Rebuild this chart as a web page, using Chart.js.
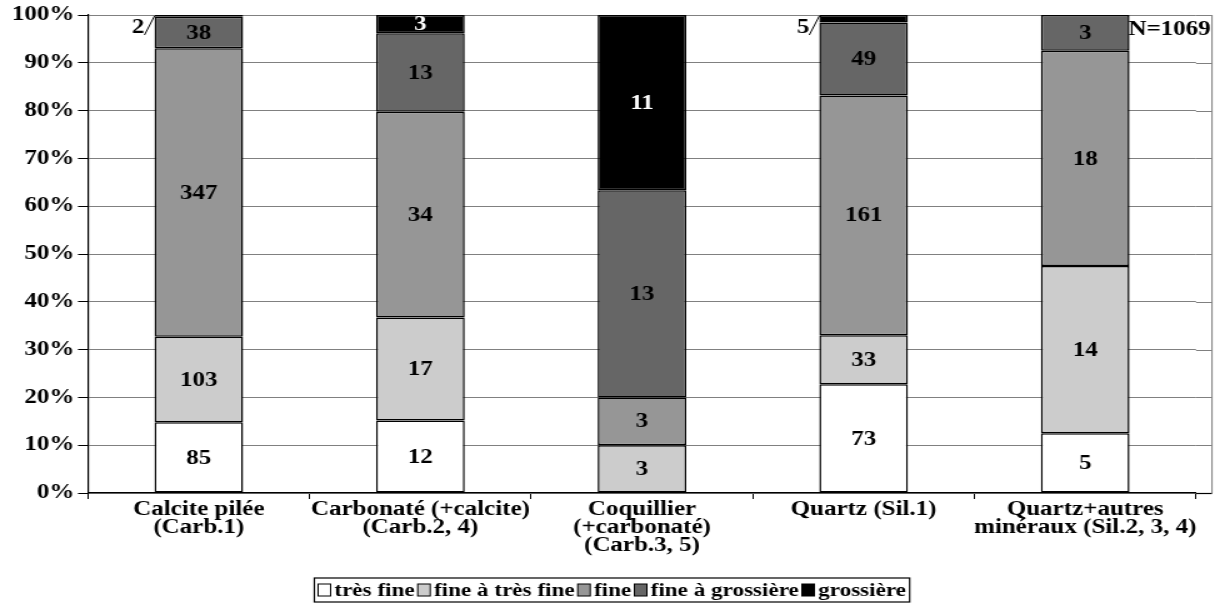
<!DOCTYPE html>
<html>
<head>
<meta charset="utf-8">
<script src="https://cdn.jsdelivr.net/npm/chart.js@4.4.0/dist/chart.umd.min.js"></script>
<style>
  html,body{margin:0;padding:0;background:#fff;overflow:hidden;}
  #c{transform:scaleX(1.25);transform-origin:0 0;display:block;}
</style>
</head>
<body>
<canvas id="c" width="976" height="603"></canvas>
<script>
const categories = [
  ["Calcite pilée","(Carb.1)"],
  ["Carbonaté (+calcite)","(Carb.2, 4)"],
  ["Coquillier","(+carbonaté)","(Carb.3, 5)"],
  ["Quartz (Sil.1)"],
  ["Quartz+autres","minéraux (Sil.2, 3, 4)"]
];
const seriesNames = ["très fine","fine à très fine","fine","fine à grossière","grossière"];
const tresFine       = [85, 12, 0, 73, 5];
const fineATresFine  = [103, 17, 3, 33, 14];
const fine           = [347, 34, 3, 161, 18];
const fineAGrossiere = [38, 13, 13, 49, 3];
const grossiere      = [2, 3, 11, 5, 0];
const yTicks = [0,10,20,30,40,50,60,70,80,90,100];
const totalLabel = "N=1069";

const counts = [tresFine, fineATresFine, fine, fineAGrossiere, grossiere];
const colors = ["#ffffff","#cccccc","#969696","#666666","#000000"];
const labelColors = ["#000","#000","#000","#000","#fff"];
const totals = categories.map((_, j) => counts.reduce((s, arr) => s + arr[j], 0));
const FONT = '"Liberation Serif","Times New Roman",serif';
const EXT = 12.8; // plot frame extends beyond last category (internal px)

const datasets = counts.map((arr, i) => ({
  label: seriesNames[i],
  data: arr.map((v, j) => v / totals[j] * 100),
  backgroundColor: colors[i],
  borderColor: "#000",
  borderWidth: 1.5,
  borderSkipped: false,
  barPercentage: 0.4,
  categoryPercentage: 1.0
}));

const framePlugin = {
  id: 'frameExt',
  beforeDatasetsDraw(chart) {
    const ctx = chart.ctx, ca = chart.chartArea, y = chart.scales.y;
    ctx.save();
    ctx.strokeStyle = "#808080";
    ctx.lineWidth = 1;
    yTicks.forEach(v => {
      if (v === 0) return;
      const py = Math.round(y.getPixelForValue(v)) + 0.5;
      ctx.beginPath();
      ctx.moveTo(ca.right, py);
      ctx.lineTo(ca.right + EXT, py);
      ctx.stroke();
    });
    ctx.beginPath();
    ctx.moveTo(ca.right + EXT, ca.top);
    ctx.lineTo(ca.right + EXT, ca.bottom);
    ctx.stroke();
    ctx.strokeStyle = "#000";
    ctx.lineWidth = 1.2;
    ctx.beginPath();
    ctx.moveTo(ca.right, ca.bottom + 0.5);
    ctx.lineTo(ca.right + EXT, ca.bottom + 0.5);
    ctx.stroke();
    ctx.restore();
  }
};

const labelPlugin = {
  id: 'segLabels',
  afterDatasetsDraw(chart) {
    const ctx = chart.ctx;
    ctx.save();
    ctx.font = 'bold 20px ' + FONT;
    counts.forEach((arr, i) => {
      const meta = chart.getDatasetMeta(i);
      meta.data.forEach((el, j) => {
        const v = arr[j];
        if (!v) return;
        const h = Math.abs(el.base - el.y);
        if (h < 14) {
          const left = el.x - el.width / 2;
          ctx.fillStyle = "#000";
          ctx.textAlign = "right";
          ctx.textBaseline = "middle";
          ctx.fillText(String(v), left - 8, el.y + 13);
          ctx.strokeStyle = "#000";
          ctx.lineWidth = 1;
          ctx.beginPath();
          ctx.moveTo(left - 8, el.y + 20);
          ctx.lineTo(left, el.y + 1);
          ctx.stroke();
        } else {
          ctx.fillStyle = labelColors[i];
          ctx.textAlign = "center";
          ctx.textBaseline = "middle";
          ctx.fillText(String(v), el.x, (el.y + el.base) / 2 + 1);
        }
      });
    });
    const ca = chart.chartArea;
    ctx.fillStyle = "#000";
    ctx.textAlign = "right";
    ctx.textBaseline = "middle";
    ctx.fillText(totalLabel, ca.right + EXT - 1, ca.top + 15);
    ctx.restore();
  }
};

const legendPlugin = {
  id: 'customLegend',
  afterDraw(chart) {
    const ctx = chart.ctx;
    ctx.save();
    ctx.font = 'bold 18.5px ' + FONT;
    const box = 10, boxH = 12, gap = 3, sep = 2.5, margin = 3;
    const widths = seriesNames.map(t => ctx.measureText(t).width);
    let total = margin * 2;
    widths.forEach((w, i) => { total += box + gap + w + (i < widths.length - 1 ? sep : 0); });
    const cx = 489.6, cy = 590;
    let x = cx - total / 2;
    ctx.strokeStyle = "#000";
    ctx.lineWidth = 1.2;
    ctx.strokeRect(x, 578, total, 24);
    x += margin;
    seriesNames.forEach((t, i) => {
      ctx.fillStyle = colors[i];
      ctx.fillRect(x, cy - boxH / 2, box, boxH);
      ctx.lineWidth = 1;
      ctx.strokeRect(x, cy - boxH / 2, box, boxH);
      x += box + gap;
      ctx.fillStyle = "#000";
      ctx.textAlign = "left";
      ctx.textBaseline = "middle";
      ctx.fillText(t, x, cy + 1);
      x += widths[i] + sep;
    });
    ctx.restore();
  }
};

new Chart(document.getElementById('c'), {
  type: 'bar',
  data: { labels: categories, datasets },
  options: {
    responsive: false,
    animation: false,
    layout: { padding: { top: 12, right: 976 - 956.8, left: 6.4, bottom: 0 } },
    plugins: {
      legend: { display: false },
      tooltip: { enabled: false },
      title: { display: false }
    },
    scales: {
      x: {
        stacked: true,
        afterFit(axis) { axis.height = 110; },
        grid: { offset: true, drawOnChartArea: false, drawTicks: true, tickLength: 6, color: '#000' },
        border: { color: '#000', width: 1.2 },
        ticks: {
          color: '#000',
          font: { family: FONT, size: 20, weight: 'bold', lineHeight: 0.9 },
          maxRotation: 0,
          autoSkip: false,
          padding: 2
        }
      },
      y: {
        stacked: true,
        min: 0,
        max: 100,
        afterBuildTicks(axis) { axis.ticks = yTicks.map(v => ({ value: v })); },
        grid: { color: '#808080', lineWidth: 1, tickLength: 8, tickColor: '#000' },
        border: { color: '#000', width: 1.2 },
        ticks: {
          color: '#000',
          font: { family: FONT, size: 20, weight: 'bold' },
          callback: v => v + '%',
          padding: 3
        }
      }
    }
  },
  plugins: [framePlugin, labelPlugin, legendPlugin]
});
</script>
</body>
</html>
